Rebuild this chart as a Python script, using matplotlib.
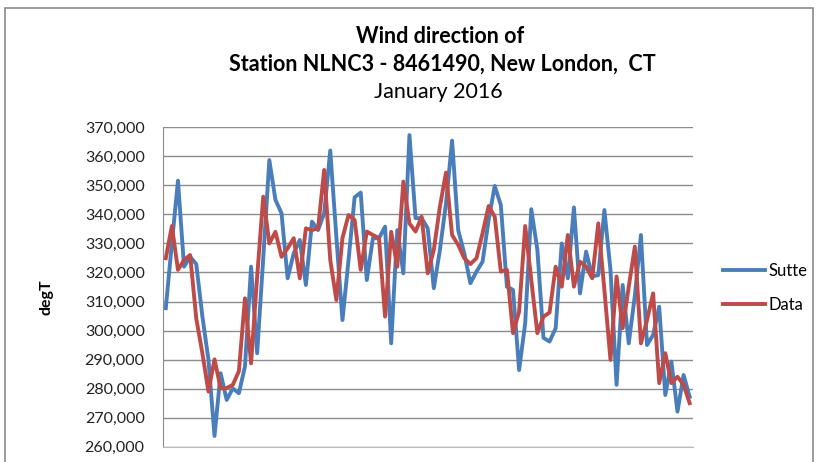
import matplotlib
matplotlib.use('Agg')
import matplotlib.pyplot as plt
from matplotlib.patches import Rectangle
from matplotlib.ticker import FuncFormatter, MultipleLocator

plt.rcParams['font.family'] = ['Lato', 'DejaVu Sans']

# wind direction (degT), one value per observation, January 2016
sutte = [307.7, 330.0, 351.6, 322.0, 325.4, 322.9, 305.0, 290.0, 263.7, 285.3,
         276.1, 280.1, 278.4, 287.6, 322.0, 292.2, 325.0, 358.7, 345.0, 340.4,
         318.0, 326.6, 331.2, 315.7, 337.5, 334.6, 340.4, 362.0, 332.3, 303.6,
         324.3, 345.9, 347.5, 317.4, 331.8, 331.8, 335.8, 295.6, 334.6, 319.7,
         367.3, 338.7, 338.7, 335.2, 314.6, 327.8, 343.8, 365.4, 334.6, 326.6,
         316.3, 320.3, 323.7, 338.1, 349.8, 343.2, 315.1, 314.0, 286.4, 302.5,
         341.8, 327.8, 297.5, 296.2, 300.8, 330.0, 318.0, 342.4, 312.8, 327.2,
         318.6, 319.1, 341.5, 320.9, 281.3, 315.7, 295.6, 312.0, 332.9, 295.0,
         298.5, 308.2, 277.8, 289.3, 272.1, 284.7, 277.2]
data = [324.9, 336.0, 320.9, 324.3, 326.0, 304.2, 292.3, 279.0, 290.1, 280.1,
        280.2, 281.3, 286.0, 311.1, 288.7, 318.6, 346.1, 330.0, 334.0, 325.4,
        328.3, 331.8, 318.0, 335.2, 334.6, 335.2, 355.3, 324.3, 310.5, 331.8,
        339.8, 338.1, 320.9, 334.1, 332.9, 331.8, 304.8, 334.0, 322.0, 351.3,
        336.9, 334.1, 339.2, 319.7, 327.8, 342.7, 354.4, 332.9, 329.5, 324.9,
        322.9, 324.9, 333.5, 342.9, 339.2, 320.3, 320.9, 299.1, 306.5, 336.0,
        317.4, 299.1, 304.8, 306.2, 322.0, 315.1, 332.9, 315.1, 323.7, 322.0,
        318.0, 336.9, 314.0, 289.9, 318.6, 300.8, 315.1, 328.9, 295.6, 303.6,
        312.8, 281.9, 292.2, 281.9, 284.1, 281.3, 275.0]

blue = '#4A7EBB'
red = '#BE4B48'

fig = plt.figure(figsize=(8.19, 4.62), dpi=100)
ax = fig.add_axes([0.1987, 0.0331, 0.6471, 0.6914])

x = list(range(len(sutte)))
ax.plot(x, sutte, color=blue, lw=2.8, label='Sutte', solid_joinstyle='round')
ax.plot(x, data, color=red, lw=2.8, label='Data', solid_joinstyle='round')

ax.set_xlim(-0.5, len(sutte) - 0.5)
ax.set_ylim(260, 370)
ax.yaxis.set_major_locator(MultipleLocator(10))
ax.yaxis.set_major_formatter(FuncFormatter(lambda v, p: f'{v:.3f}'.replace('.', ',')))
ax.grid(axis='y', color='#8C8C8C', lw=1)
ax.set_axisbelow(True)
ax.set_xticks([])
ax.tick_params(axis='y', length=0, pad=13, labelsize=11.5, colors='#222222')

for s in ['top', 'right']:
    ax.spines[s].set_visible(False)
ax.spines['left'].set_color('#8C8C8C')
ax.spines['bottom'].set_color('#BBBBBB')

ax.set_ylabel('degT', fontsize=11.5, fontweight='bold')
ax.yaxis.set_label_coords(-0.207, 0.469)

fig.text(0.538, 0.92, 'Wind direction of', ha='center', va='center',
         fontsize=15.5, fontweight='bold')
fig.text(0.540, 0.862, 'Station NLNC3 - 8461490, New London,  CT', ha='center',
         va='center', fontsize=15.5, fontweight='bold')
fig.text(0.535, 0.80, 'January 2016', ha='center', va='center', fontsize=15.5)

ax.legend(loc='upper left', bbox_to_anchor=(723 / 819, 1 - 263 / 462),
          bbox_transform=fig.transFigure, frameon=False, fontsize=12,
          handlelength=2.5, handletextpad=0.25, labelspacing=1.05,
          borderpad=0, borderaxespad=0)

fig.patches.append(Rectangle((5 / 819, -0.1), 808 / 819, 1.1 - 8 / 462,
                             transform=fig.transFigure, fill=False,
                             edgecolor='#8A8A8A', lw=1.2))

fig.savefig('out.png', dpi=100)
